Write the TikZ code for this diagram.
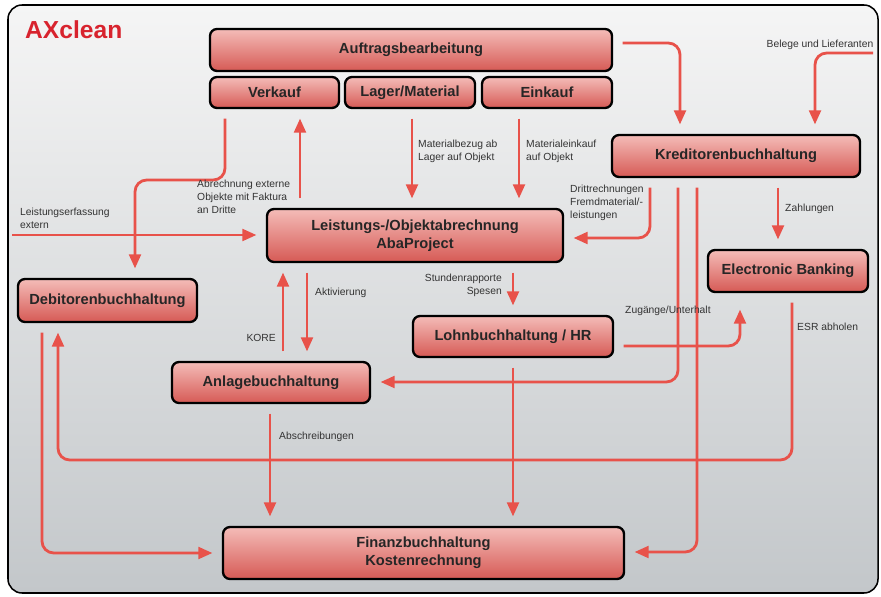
\documentclass[tikz,border=0pt]{standalone}
\usepackage{fontspec}
\setmainfont{Liberation Sans}
\usepackage{tikz}
\usetikzlibrary{arrows.meta, positioning, calc}
\definecolor{flowred}{HTML}{E8524A}
\definecolor{boxtop}{HTML}{F4BCB8}
\definecolor{boxbottom}{HTML}{D65A55}
\definecolor{titlered}{HTML}{D8232E}
\definecolor{notegray}{HTML}{333333}
\definecolor{frametop}{HTML}{F5F5F5}
\definecolor{framebottom}{HTML}{C3C7CA}

\begin{document}
\begin{tikzpicture}[
    x=0.03cm, y=-0.03cm,
    unit/.style={
        draw=black,
        line width=2pt,
        rounded corners=6pt,
        top color=boxtop,
        bottom color=boxbottom,
        inner sep=0pt,
        align=center,
        text=black!85,
        font=\bfseries\fontsize{12.5}{15}\selectfont
    },
    flow/.style={
        -{Triangle[length=12pt, width=10pt]},
        line width=2.4pt,
        color=flowred,
        rounded corners=10pt,
        shorten <=8pt,
        shorten >=8pt
    },
    note/.style={
        font=\fontsize{8.8}{11}\selectfont,
        text=notegray,
        inner sep=0pt
    }
]
\useasboundingbox (0,0) rectangle (881,596);

% frame
\draw[line width=1.3pt, rounded corners=12pt, top color=frametop, bottom color=framebottom]
    (8,5) rectangle (878,593);
\node[font=\bfseries\fontsize{21}{24}\selectfont, text=titlered, anchor=west, inner sep=0pt] (title) at (25,30) {AXclean};

% top row
\node[unit, minimum width=12.06cm, minimum height=1.26cm] (auftrag) at (411,50) {Auftragsbearbeitung};
\node[unit, minimum width=3.87cm, minimum height=0.93cm] (verkauf) at (274.5,92.5) {Verkauf};
\node[unit, minimum width=3.9cm, minimum height=0.93cm] (lager) at (410,92.5) {Lager/Material};
\node[unit, minimum width=3.9cm, minimum height=0.93cm] (einkauf) at (547,92.5) {Einkauf};

% middle
\node[unit, minimum width=7.44cm, minimum height=1.26cm] (kredit) at (736,156) {Kreditorenbuchhaltung};
\node[unit, minimum width=8.88cm, minimum height=1.59cm] (leist) at (415,235.5) {Leistungs-/Objektabrechnung\\AbaProject};
\node[unit, minimum width=5.37cm, minimum height=1.29cm] (debit) at (107.5,300.5) {Debitorenbuchhaltung};
\node[unit, minimum width=4.8cm, minimum height=1.26cm] (ebank) at (788,271) {Electronic Banking};
\node[unit, minimum width=6cm, minimum height=1.23cm] (lohn) at (513,336.5) {Lohnbuchhaltung / HR};
\node[unit, minimum width=5.94cm, minimum height=1.23cm] (anlage) at (271,382.5) {Anlagebuchhaltung};

% bottom
\node[unit, minimum width=12.03cm, minimum height=1.56cm] (finanz) at (423.5,553) {Finanzbuchhaltung\\Kostenrechnung};

% free ends
\coordinate (belegein) at (873,53);
\coordinate (extin) at (12,235);

% connectors
\draw[flow] (auftrag.east |- 0,43) -| (kredit.north -| 680,0);
\draw[flow, shorten <=0pt] (belegein) -| (kredit.north -| 815,0);
\draw[flow] (verkauf.south -| 225,0) |- (180,180) -| (debit.north -| 135,0);
\draw[flow] (leist.north -| 300,0) -- (verkauf.south -| 300,0);
\draw[flow] (lager.south -| 412,0) -- (leist.north -| 412,0);
\draw[flow] (einkauf.south -| 519,0) -- (leist.north -| 519,0);
\draw[flow] (kredit.south -| 650,0) |- (leist.east |- 0,238);
\draw[flow] (kredit.south -| 678,0) |- (anlage.east |- 0,382);
\draw[flow] (kredit.south -| 697,0) |- (finanz.east |- 0,552);
\draw[flow] (kredit.south -| 778,0) -- (ebank.north -| 778,0);
\draw[flow] (ebank.south -| 792,0) |- (100,460) -| (debit.south -| 58,0);
\draw[flow] (debit.south -| 42,0) |- (finanz.west |- 0,553);
\draw[flow, shorten <=0pt] (extin) -- (leist.west |- extin);
\draw[flow] (anlage.north -| 283,0) -- (leist.south -| 283,0);
\draw[flow] (leist.south -| 307,0) -- (anlage.north -| 307,0);
\draw[flow] (leist.south -| lohn.north) -- (lohn.north);
\draw[flow, shorten >=14pt] (lohn.east |- 0,346) -| (ebank.south -| 740,0);
\draw[flow] (lohn.south) -- (lohn.south |- finanz.north);
\draw[flow] (anlage.south -| 270,0) -- (finanz.north -| 270,0);

% labels
\node[note] (belege) at (820,45) {Belege und Lieferanten};
\node[note, align=left, anchor=north west] (abrechnung) at (197,180) {Abrechnung externe\\Objekte mit Faktura\\an Dritte};
\node[note, align=left, anchor=west] (matbezug) at (418,151) {Materialbezug ab\\Lager auf Objekt};
\node[note, align=left, anchor=west] (mateinkauf) at (526,151) {Materialeinkauf\\auf Objekt};
\node[note, align=left, anchor=west] (extern) at (20,218) {Leistungserfassung\\extern};
\node[note, align=left, anchor=west] (dritt) at (570,203) {Drittrechnungen\\Fremdmaterial/-\\leistungen};
\node[note, anchor=west] (zahlungen) at (785,209) {Zahlungen};
\node[note, align=right, anchor=east] (stunden) at (502,285) {Stundenrapporte\\Spesen};
\node[note, anchor=west] (aktiv) at (315,293) {Aktivierung};
\node[note, anchor=east] (kore) at (276,338) {KORE};
\node[note, anchor=west] (zugang) at (625,311) {Zugänge/Unterhalt};
\node[note, anchor=west] (esr) at (797,327) {ESR abholen};
\node[note, anchor=west] (abschr) at (279,437) {Abschreibungen};

\end{tikzpicture}
\end{document}
